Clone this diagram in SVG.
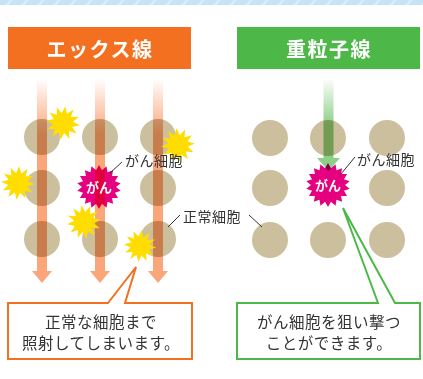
<svg xmlns="http://www.w3.org/2000/svg" xmlns:xlink="http://www.w3.org/1999/xlink" width="423" height="379" viewBox="0 0 423 379">
  <style>
    .cell { fill: #CCBF9E; }
    .beam-x { fill: url(#gradX); mix-blend-mode: multiply; }
    .beam-c { fill: url(#gradC); mix-blend-mode: multiply; }
    .burst { fill: #FFDD00; }
    .cancer { fill: #E5007F; }
    .cancer-text { font-family: "Noto Sans CJK JP", "Noto Sans", sans-serif; font-size: 13px; font-weight: bold; fill: #FFFFFF; text-anchor: middle; }
    .head-text { font-family: "Noto Sans CJK JP", "Noto Sans", sans-serif; font-size: 20px; font-weight: bold; fill: #FFFFFF; text-anchor: middle; letter-spacing: 1.5px; }
    .label { font-family: "Noto Sans CJK JP", "Noto Sans", sans-serif; font-size: 14px; fill: #333333; letter-spacing: 0.5px; }
    .note { font-family: "Noto Sans CJK JP", "Noto Sans", sans-serif; font-size: 15.5px; fill: #333333; text-anchor: middle; letter-spacing: 0.5px; }
    .leader { stroke: #333333; stroke-width: 1; fill: none; }
  </style>
  <defs>
    <pattern id="stripes" x="0" y="0" width="16" height="6" patternUnits="userSpaceOnUse">
      <rect width="16" height="6" fill="#C6E3F6"/>
      <path d="M4,6 L10,0 L13,0 L7,6 Z" fill="#D9EDFA"/>
    </pattern>
    <linearGradient id="gradX" x1="0" y1="78" x2="0" y2="135" gradientUnits="userSpaceOnUse">
      <stop offset="0" stop-color="#FBA57A" stop-opacity="0"/>
      <stop offset="1" stop-color="#FBA57A" stop-opacity="1"/>
    </linearGradient>
    <linearGradient id="gradC" x1="0" y1="78" x2="0" y2="125" gradientUnits="userSpaceOnUse">
      <stop offset="0" stop-color="#8ECF88" stop-opacity="0"/>
      <stop offset="1" stop-color="#8ECF88" stop-opacity="1"/>
    </linearGradient>
    <polygon id="burst" points="0,-17 2.59,-9.66 8.5,-14.72 7.07,-7.07 14.72,-8.5 9.66,-2.59 17,0 9.66,2.59 14.72,8.5 7.07,7.07 8.5,14.72 2.59,9.66 0,17 -2.59,9.66 -8.5,14.72 -7.07,7.07 -14.72,8.5 -9.66,2.59 -17,0 -9.66,-2.59 -14.72,-8.5 -7.07,-7.07 -8.5,-14.72 -2.59,-9.66"/>
    <polygon id="spiky" points="0,-22 2.95,-16.74 7.52,-20.67 8.5,-14.72 14.14,-16.85 13.02,-10.93 19.05,-11 15.97,-5.81 21.67,-3.82 17,0 21.67,3.82 15.97,5.81 19.05,11 13.02,10.93 14.14,16.85 8.5,14.72 7.52,20.67 2.95,16.74 0,22 -2.95,16.74 -7.52,20.67 -8.5,14.72 -14.14,16.85 -13.02,10.93 -19.05,11 -15.97,5.81 -21.67,3.82 -17,0 -21.67,-3.82 -15.97,-5.81 -19.05,-11 -13.02,-10.93 -14.14,-16.85 -8.5,-14.72 -7.52,-20.67 -2.95,-16.74"/>
  </defs>

  <rect x="0" y="0" width="423" height="379" fill="#FFFFFF"/>
  <!-- striped band along the top edge -->
  <rect x="0" y="0" width="423" height="5" fill="url(#stripes)"/>

  <!-- panel headers -->
  <g id="header-xray">
    <rect x="8" y="27" width="183" height="42" fill="#F37021"/>
    <text class="head-text" x="100" y="57">エックス線</text>
  </g>
  <g id="header-carbon">
    <rect x="237" y="27" width="183" height="42" fill="#4DB848"/>
    <text class="head-text" x="329" y="57">重粒子線</text>
  </g>

  <!-- X-ray panel: normal cells -->
  <g id="xray-cells">
    <circle class="cell" cx="42" cy="137" r="18"/>
    <circle class="cell" cx="100" cy="137" r="18"/>
    <circle class="cell" cx="158" cy="137" r="18"/>
    <circle class="cell" cx="42" cy="188" r="18"/>
    <circle class="cell" cx="158" cy="188" r="18"/>
    <circle class="cell" cx="42" cy="239" r="18"/>
    <circle class="cell" cx="100" cy="239" r="18"/>
    <circle class="cell" cx="158" cy="239" r="18"/>
  </g>
  <g id="xray-cancer">
    <use xlink:href="#spiky" class="cancer" transform="translate(99,187)"/>
  </g>

  <!-- X-ray beams pass through every cell -->
  <g id="xray-beams">
    <path class="beam-x" d="M37,78 H47 V271 H52 L42,283 L32,271 H37 Z"/>
    <path class="beam-x" d="M95,78 H105 V271 H110 L100,283 L90,271 H95 Z"/>
    <path class="beam-x" d="M153,78 H163 V271 H168 L158,283 L148,271 H153 Z"/>
  </g>
  <text class="cancer-text" x="99" y="192">がん</text>

  <!-- damage bursts on healthy tissue -->
  <g id="xray-bursts">
    <use xlink:href="#burst" class="burst" transform="translate(63,123) rotate(8)"/>
    <use xlink:href="#burst" class="burst" transform="translate(178,145) rotate(-5)"/>
    <use xlink:href="#burst" class="burst" transform="translate(18,183) rotate(4)"/>
    <use xlink:href="#burst" class="burst" transform="translate(84,222) rotate(-8)"/>
    <use xlink:href="#burst" class="burst" transform="translate(140,246) scale(0.95) rotate(6)"/>
  </g>

  <!-- Carbon-ion panel: normal cells -->
  <g id="carbon-cells">
    <circle class="cell" cx="270" cy="138" r="18"/>
    <circle class="cell" cx="328" cy="138" r="18"/>
    <circle class="cell" cx="387" cy="138" r="18"/>
    <circle class="cell" cx="270" cy="188" r="18"/>
    <circle class="cell" cx="387" cy="188" r="18"/>
    <circle class="cell" cx="270" cy="240" r="18"/>
    <circle class="cell" cx="328" cy="240" r="18"/>
    <circle class="cell" cx="387" cy="240" r="18"/>
  </g>
  <g id="carbon-cancer">
    <use xlink:href="#spiky" class="cancer" transform="translate(328,185)"/>
  </g>
  <g id="carbon-beam">
    <path class="beam-c" d="M323.5,78 H333.5 V158 H340 L328.5,171 L317,158 H323.5 Z"/>
  </g>
  <text class="cancer-text" x="328" y="190">がん</text>

  <!-- leader lines for the cell labels -->
  <g id="connectors">
    <line class="leader" x1="110" y1="173" x2="122" y2="162"/>
    <line class="leader" x1="168" y1="227" x2="180" y2="215"/>
    <line class="leader" x1="249" y1="215" x2="262" y2="227"/>
    <line class="leader" x1="341" y1="174" x2="355" y2="157"/>
  </g>

  <g id="label-cancer-xray">
    <text class="label" x="125" y="166">がん細胞</text>
  </g>
  <g id="label-normal">
    <text class="label" x="183" y="222">正常細胞</text>
  </g>
  <g id="label-cancer-carbon">
    <text class="label" x="357" y="165">がん細胞</text>
  </g>

  <!-- callouts -->
  <g id="callout-xray">
    <path d="M108,303 L136,267 L125,303 H192 V359 H8 V303 Z" fill="#FFFFFF" stroke="#F37021" stroke-width="2" stroke-linejoin="miter"/>
    <text class="note" x="101" y="328">正常な細胞まで</text>
    <text class="note" x="101" y="349">照射してしまいます。</text>
  </g>
  <g id="callout-carbon">
    <path d="M378,303 L343,208 L395,303 H420 V359 H237 V303 Z" fill="#FFFFFF" stroke="#4DB848" stroke-width="2" stroke-linejoin="miter"/>
    <text class="note" x="329" y="328">がん細胞を狙い撃つ</text>
    <text class="note" x="329" y="349">ことができます。</text>
  </g>
</svg>
